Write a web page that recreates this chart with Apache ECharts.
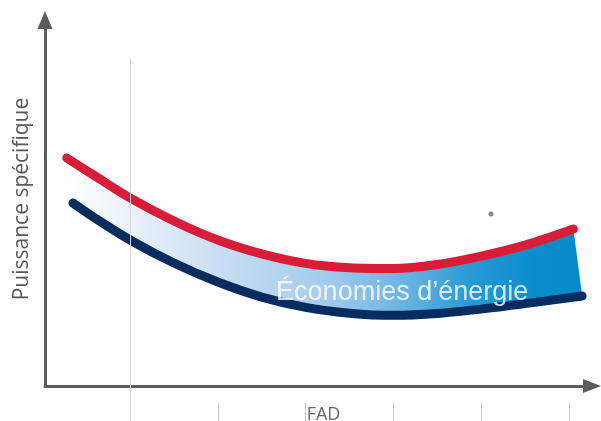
<!DOCTYPE html>
<html>
<head>
<meta charset="utf-8">
<script src="https://cdn.jsdelivr.net/npm/echarts@6/dist/echarts.min.js"></script>
<style>html,body{margin:0;padding:0;background:#fff}#c{width:601px;height:421px}</style>
</head>
<body>
<div id="c"></div>
<script>
// ---- data ----
var xName = 'FAD';
var yName = 'Puissance spécifique';
var bandLabel = 'Économies d’énergie';
var tickValues = [0, 1, 2, 3, 4, 5];
var xMin = -0.968, xMax = 5.262;
var yMin = 0, yMax = 100;

var redX = [-0.72, -0.4, 0, 0.5, 1, 1.5, 2, 2.5, 3, 3.5, 4, 4.5, 5.05];
var redY = [62.3, 57.4, 51.4, 45.1, 39.9, 36.1, 33.5, 32.3, 32.1, 33.2, 35.5, 38.5, 42.9];

var navyX = [-0.65, -0.4, 0, 0.5, 1, 1.5, 2, 2.5, 3, 3.5, 4, 4.5, 5.15];
var navyY = [50.0, 45.9, 39.9, 33.6, 28.4, 24.3, 21.5, 19.9, 19.3, 19.8, 21.0, 22.5, 24.6];

var dotPoint = [4.112, 47.0];
var refLineX = 0;
var refLineTop = 89.6;
var labelPoint = [3.1, 25.5];

var chart = echarts.init(document.getElementById('c'), null, {renderer: 'canvas'});

function zip(xs, ys) { return xs.map(function (x, i) { return [x, ys[i]]; }); }

var fillGrad = new echarts.graphic.LinearGradient(0, 0, 1, 0, [
  {offset: 0, color: '#ffffff'},
  {offset: 0.1, color: '#eef4fb'},
  {offset: 0.3, color: '#c8ddf3'},
  {offset: 0.5, color: '#a5cbec'},
  {offset: 0.65, color: '#6db4e2'},
  {offset: 0.78, color: '#2a9ad6'},
  {offset: 0.9, color: '#0b8dcd'},
  {offset: 1, color: '#0688c9'}
]);

var option = {
  animation: false,
  grid: {left: 45, right: 9, top: 20, bottom: 35, containLabel: false, outerBoundsMode: 'none'},
  xAxis: [{
    type: 'value', min: xMin, max: xMax,
    name: xName, nameLocation: 'middle', nameGap: 20,
    nameTextStyle: {fontFamily: 'Open Sans', fontSize: 18, color: '#666666', padding: [0, 0, 0, 10]},
    axisLine: {show: true, onZero: false, symbol: ['none', 'triangle'], symbolSize: [14, 18], lineStyle: {color: '#5c5c5c', width: 3}},
    axisTick: {show: true, customValues: [tickValues[0]], length: 36, lineStyle: {color: '#d6d6d6', width: 1}},
    axisLabel: {show: false}, splitLine: {show: false}
  }, {
    type: 'value', min: xMin, max: xMax, position: 'bottom', offset: 17,
    axisLine: {show: false, onZero: false},
    axisTick: {show: true, customValues: tickValues.slice(1), length: 20, lineStyle: {color: '#c8c8c8', width: 1}},
    axisLabel: {show: false}, splitLine: {show: false}
  }],
  yAxis: {
    type: 'value', min: yMin, max: yMax,
    name: yName, nameLocation: 'middle', nameRotate: 90, nameGap: 12,
    nameTextStyle: {fontFamily: 'Open Sans', fontSize: 21, color: '#595959', padding: [0, 0, 0, 8]},
    axisLine: {show: true, onZero: false, symbol: ['none', 'triangle'], symbolSize: [15, 18], lineStyle: {color: '#5c5c5c', width: 3}},
    axisTick: {show: false}, axisLabel: {show: false}, splitLine: {show: false}
  },
  series: [{
    type: 'custom', z: 1, silent: true,
    data: [[0, 0]],
    renderItem: function (params, api) {
      var pts = [];
      for (var i = 0; i < redX.length; i++) pts.push(api.coord([redX[i], redY[i]]));
      for (var j = navyX.length - 1; j >= 0; j--) pts.push(api.coord([navyX[j], navyY[j]]));
      return {type: 'polygon', shape: {points: pts}, style: {fill: fillGrad}};
    }
  }, {
    type: 'scatter', z: 2, silent: true,
    data: [dotPoint], symbolSize: 5, itemStyle: {color: '#6a6a6a'},
    markLine: {
      silent: true, symbol: ['none', 'none'], label: {show: false},
      lineStyle: {color: '#d6d6d6', width: 1, type: 'solid'},
      data: [[{coord: [refLineX, refLineTop]}, {coord: [refLineX, yMin]}]]
    }
  }, {
    type: 'line', z: 3, silent: true, smooth: 0.3, showSymbol: false, symbol: 'none',
    data: zip(navyX, navyY),
    lineStyle: {color: '#062c60', width: 9, cap: 'round', join: 'round'}
  }, {
    type: 'line', z: 3, silent: true, smooth: 0.3, showSymbol: false, symbol: 'none',
    data: zip(redX, redY),
    lineStyle: {color: '#d91c37', width: 9, cap: 'round', join: 'round'}
  }, {
    type: 'scatter', z: 4, silent: true,
    data: [labelPoint], symbolSize: 0,
    label: {show: true, position: 'inside', formatter: bandLabel, color: '#ffffff',
      fontFamily: 'Liberation Sans', fontSize: 27}
  }]
};
chart.setOption(option);
</script>
</body>
</html>
